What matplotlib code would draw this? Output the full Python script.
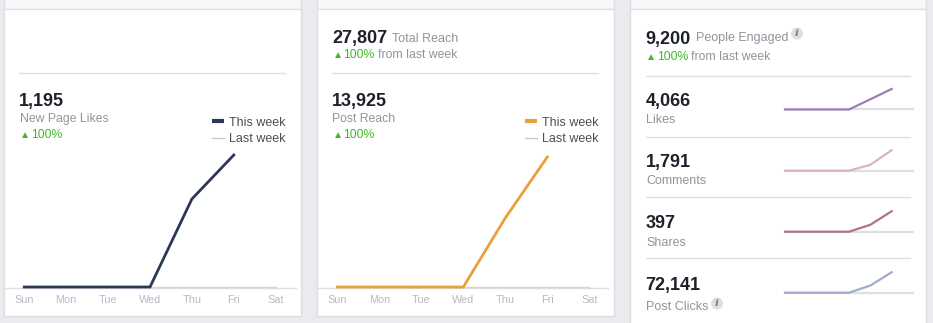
import matplotlib
matplotlib.use("Agg")
import matplotlib.pyplot as plt
from matplotlib.patches import Rectangle, Circle

plt.rcParams["font.family"] = ["Liberation Sans", "DejaVu Sans"]

W, H = 933, 323

days = ["Sun", "Mon", "Tue", "Wed", "Thu", "Fri", "Sat"]

page_likes_this = [0, 0, 0, 0, 478, 717]
page_likes_last = [0, 0, 0, 0, 0, 0, 0]
post_reach_this = [0, 0, 0, 0, 4830, 9095]
post_reach_last = [0, 0, 0, 0, 0, 0, 0]

engaged_labels = ["Likes", "Comments", "Shares", "Post Clicks"]
engaged_totals = ["4,066", "1,791", "397", "72,141"]
likes_this = [0, 0, 0, 0, 1355, 2711]
comments_this = [0, 0, 0, 0, 403, 1388]
shares_this = [0, 0, 0, 0, 100, 297]
clicks_this = [0, 0, 0, 0, 18703, 53438]
engaged_last = [0, 0, 0, 0, 0, 0, 0]

DARK = "#1d2129"
GREY = "#90949c"
GREEN = "#42b72a"
LINE = "#dddfe2"
DAYCOL = "#b6bac1"
NAVY = "#2b3856"
ORANGE = "#e8a13a"
spark_colors = ["#9a7fb5", "#dcb3c0", "#ad7389", "#a2abcf"]

fig = plt.figure(figsize=(W / 100, H / 100), dpi=100)
fig.patch.set_facecolor("#e9ebee")

bg = fig.add_axes([0, 0, 1, 1])
bg.set_xlim(0, W)
bg.set_ylim(H, 0)
bg.axis("off")


def px_axes(left, top, right, bottom):
    ax = fig.add_axes([left / W, 1 - bottom / H, (right - left) / W, (bottom - top) / H])
    ax.patch.set_alpha(0)
    for s in ax.spines.values():
        s.set_visible(False)
    ax.set_yticks([])
    return ax


def panel(x0, x1, bottom):
    bg.add_patch(Rectangle((x0, -5), x1 - x0, bottom + 5, facecolor="#f6f7f9",
                           edgecolor=LINE, lw=1))
    bg.add_patch(Rectangle((x0, 8.5), x1 - x0, bottom - 8.5, facecolor="white",
                           edgecolor=LINE, lw=1))


def txt(x, y, s, size=8.8, color=GREY, weight="normal", **kw):
    bg.text(x, y, s, fontsize=size, color=color, weight=weight, va="baseline", **kw)


def up_pct(x, y, extra=None, pct_x=None, extra_x=None):
    txt(x, y - 0.3, "\u25b2", size=7.4, color=GREEN)
    txt(pct_x, y, "100%", color=GREEN)
    if extra:
        txt(extra_x, y, extra)


def legend(x, color):
    bg.plot([x, x + 12], [121, 121], color=color, lw=3, solid_capstyle="butt")
    bg.plot([x, x + 12], [138, 138], color="#c4c7cc", lw=1)
    txt(x + 17, 125.5, "This week", size=9, color="#4b4f56")
    txt(x + 17, 142.5, "Last week", size=9, color="#4b4f56")


def info_icon(x, y):
    bg.add_patch(Circle((x, y), 6, facecolor="#dddfe2", edgecolor="none"))
    bg.text(x, y + 0.3, "i", fontsize=7.5, color="#7a7e86", style="italic",
            weight="bold", ha="center", va="center", family="DejaVu Serif")


def week_chart(left, right, top, this, last, color):
    ax = px_axes(left, top, right, 287)
    ax.plot(range(len(last)), last, color="#d3d6db", lw=1, clip_on=False)
    ax.plot(range(len(this)), this, color=color, lw=2, clip_on=False,
            solid_joinstyle="miter")
    ax.set_xlim(0, 6)
    ax.set_ylim(0, max(this))
    ax.set_xticks(range(7))
    ax.set_xticklabels(days, fontsize=7.8, color=DAYCOL)
    ax.tick_params(axis="x", length=0, pad=6)


# panels
panel(3.5, 300.5, 316)
panel(316.5, 613.5, 316)
panel(629.5, 926, 335)

# page likes panel
bg.plot([19, 285], [73.3, 73.3], color=LINE, lw=1)
txt(19, 106, "1,195", size=13, color=DARK, weight="bold")
txt(19.5, 122, "New Page Likes")
up_pct(19.5, 138.5, pct_x=31.5)
legend(212, NAVY)
bg.plot([4, 296], [288.3, 288.3], color=LINE, lw=1)
week_chart(24.3, 275.7, 155, page_likes_this, page_likes_last, NAVY)

# reach panel
txt(332, 42.5, "27,807", size=13, color=DARK, weight="bold")
txt(392, 42, "Total Reach", size=9)
up_pct(332.5, 58.5, "from last week", pct_x=343.5, extra_x=378)
bg.plot([332, 597.5], [73.3, 73.3], color=LINE, lw=1)
txt(332, 106, "13,925", size=13, color=DARK, weight="bold")
txt(332.5, 122, "Post Reach")
up_pct(332.5, 138.5, pct_x=343.5)
legend(525, ORANGE)
bg.plot([317, 608], [288.3, 288.3], color=LINE, lw=1)
week_chart(337.3, 589.3, 157, post_reach_this, post_reach_last, ORANGE)

# engagement panel
txt(645.5, 44, "9,200", size=13, color=DARK, weight="bold")
txt(695.5, 40.5, "People Engaged", size=9)
info_icon(797, 33.5)
up_pct(645.5, 60, "from last week", pct_x=657, extra_x=691)

for y in [75.5, 136.7, 197.3, 258.3]:
    bg.plot([646, 910], [y, y], color=LINE, lw=1)

num_base = [106, 167, 228.3, 290]
lab_base = [123.3, 184, 246, 310]
spark_base = [109.5, 170.7, 231.7, 292.7]
spark_data = [likes_this, comments_this, shares_this, clicks_this]

for i in range(4):
    txt(645.5, num_base[i], engaged_totals[i], size=13, color=DARK, weight="bold")
    txt(646, lab_base[i], engaged_labels[i], size=9)
    b = spark_base[i]
    ax = px_axes(785, b - 20.5, 913, b)
    ax.plot(range(7), engaged_last, color=LINE, lw=1.6, clip_on=False)
    ax.plot(range(len(spark_data[i])), spark_data[i], color=spark_colors[i], lw=1.6,
            clip_on=False)
    ax.set_xlim(0, 6)
    ax.set_ylim(0, max(spark_data[i]))
    ax.set_xticks([])

info_icon(717, 303.5)

fig.savefig("out.png", dpi=100, facecolor=fig.get_facecolor())
